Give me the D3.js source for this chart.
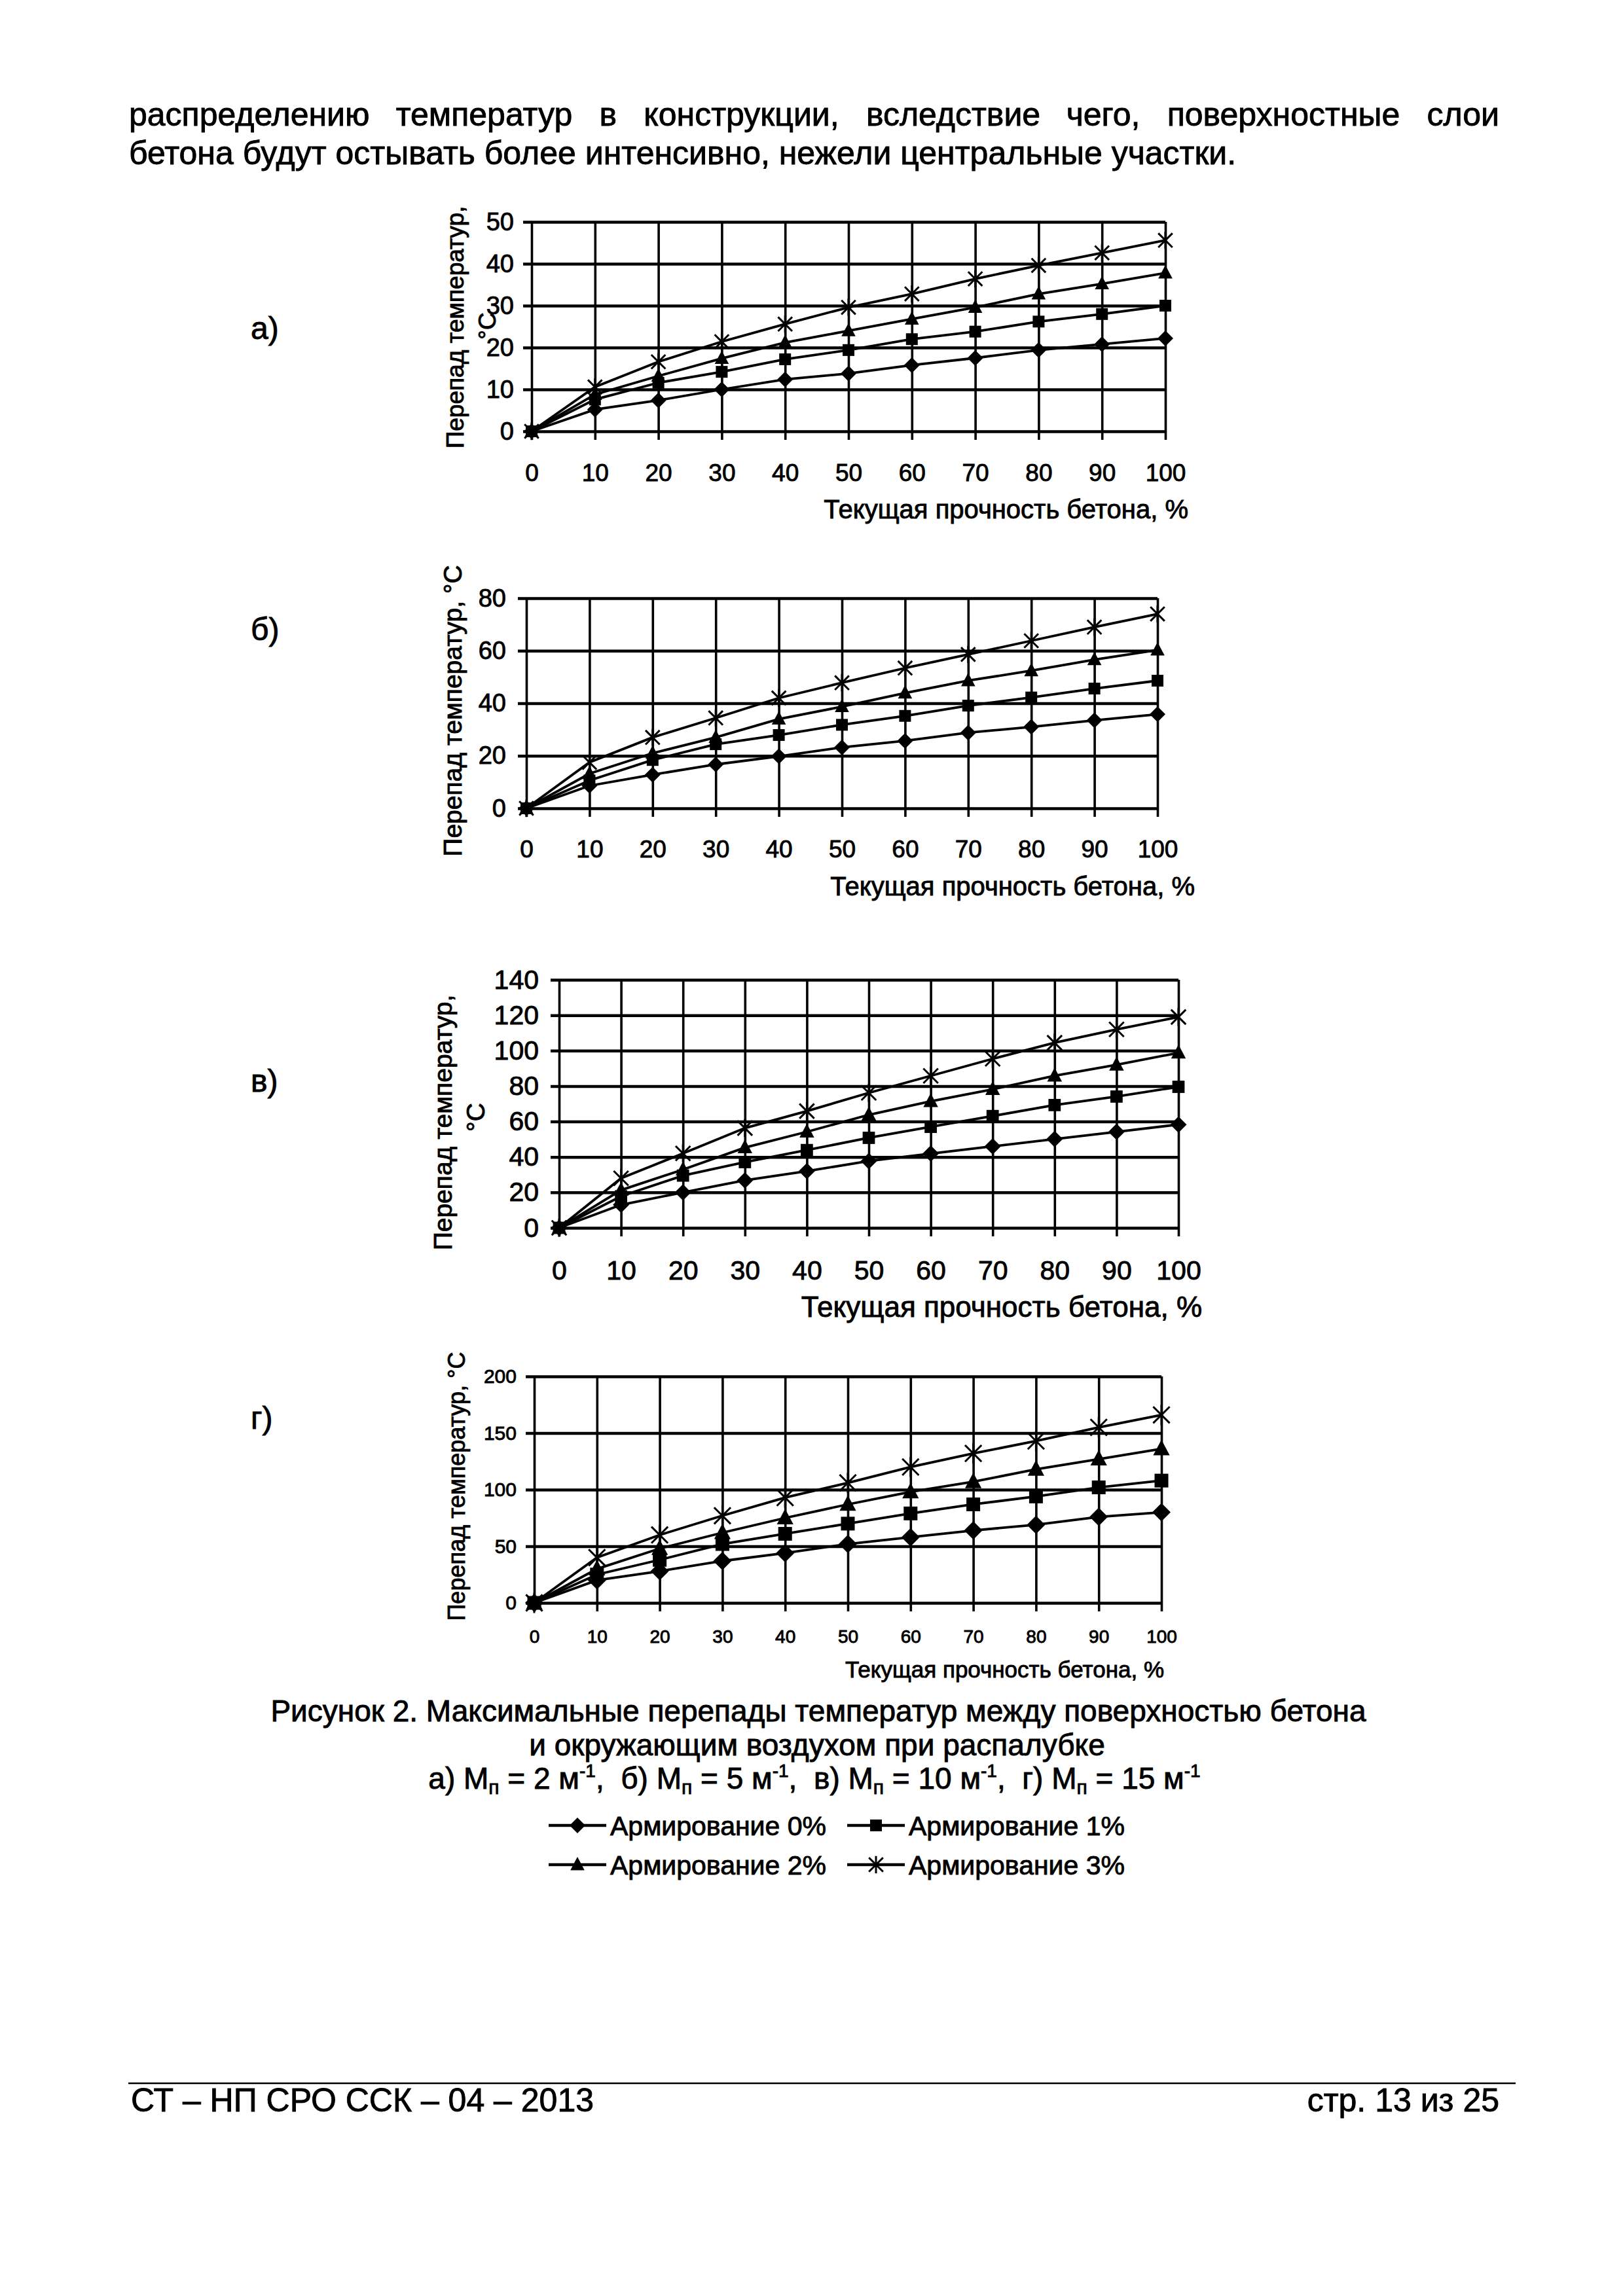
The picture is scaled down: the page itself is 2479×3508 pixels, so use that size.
<!DOCTYPE html>
<html>
<head>
<meta charset="UTF-8">
<title>Рисунок 2</title>
<script src="https://d3js.org/d3.v7.min.js"></script>
<style>
  html, body { margin: 0; padding: 0; background: #fff; }
  svg { display: block; }
  text { font-family: "Liberation Sans", Arial, sans-serif; fill: #000; stroke: #000; stroke-width: 0.9px; }
</style>
</head>
<body>
<script>
// ---- data ----
const strength = [0, 10, 20, 30, 40, 50, 60, 70, 80, 90, 100];
const legendNames = ["Армирование 0%", "Армирование 1%", "Армирование 2%", "Армирование 3%"];

const yTicksA = [0, 10, 20, 30, 40, 50];
const yTicksB = [0, 20, 40, 60, 80];
const yTicksV = [0, 20, 40, 60, 80, 100, 120, 140];
const yTicksG = [0, 50, 100, 150, 200];

// а) Mп = 2 м-1
const a0 = [0, 5.2, 7.4, 10, 12.4, 13.8, 15.8, 17.5, 19.4, 20.8, 22.2];
const a1 = [0, 7.6, 11.6, 14.2, 17.2, 19.4, 22, 23.8, 26.2, 28, 30];
const a2 = [0, 8.8, 13.2, 17.4, 21.2, 24, 26.8, 29.6, 32.8, 35.2, 37.8];
const a3 = [0, 10.6, 16.6, 21.4, 25.6, 29.6, 32.8, 36.4, 39.6, 42.6, 45.6];
// б) Mп = 5 м-1
const b0 = [0, 8.6, 12.8, 16.7, 19.8, 23.2, 25.7, 28.8, 31, 33.5, 35.8];
const b1 = [0, 10.6, 18.4, 24.4, 27.9, 31.8, 35.2, 39.1, 42.2, 45.6, 48.6];
const b2 = [0, 13.2, 21, 27, 34, 38.7, 43.9, 48.6, 52.4, 56.6, 60.3];
const b3 = [0, 17.5, 27, 34.4, 42, 47.8, 53.4, 58.6, 63.8, 69, 74];
// в) Mп = 10 м-1
const v0 = [0, 13, 20, 26.8, 32, 37.7, 41.9, 46, 50.1, 54.2, 58.3];
const v1 = [0, 17.8, 29.5, 37.1, 43.9, 50.8, 57, 63.1, 69.3, 74.1, 79.6];
const v2 = [0, 21.3, 32.9, 45.3, 54.2, 63.8, 71.4, 78.2, 85.8, 92, 98.8];
const v3 = [0, 28, 42, 56.3, 65.9, 76.2, 85.8, 95.4, 104.5, 112, 119];
// г) Mп = 15 м-1
const g0 = [0, 20, 28, 37, 44, 52, 58, 64, 69, 76, 80];
const g1 = [0, 25, 38, 52, 61, 70, 79, 87, 94, 102, 108];
const g2 = [0, 30, 48, 62, 75, 87, 98, 107, 118, 127, 136];
const g3 = [0, 40, 60, 77, 93, 106, 120, 132, 143, 155, 166];

const FONT = '"Liberation Sans", Arial, sans-serif';
const W = 2479, H = 3508;

const svg = d3.select("body").append("svg")
  .attr("width", W).attr("height", H)
  .attr("viewBox", `0 0 ${W} ${H}`);
svg.append("rect").attr("width", W).attr("height", H).attr("fill", "#fff");

// ---- body text (first line justified) ----
function justifiedLine(words, x0, x1, y, fs) {
  const t = svg.append("text").attr("font-size", fs).attr("y", y);
  const spans = words.map(w => t.append("tspan").text(w));
  const widths = spans.map(s => s.node().getComputedTextLength());
  const gap = (x1 - x0 - d3.sum(widths)) / (words.length - 1);
  let x = x0;
  spans.forEach((s, i) => { s.attr("x", x); x += widths[i] + gap; });
}
justifiedLine("распределению температур в конструкции, вследствие чего, поверхностные слои".split(" "),
  197, 2290, 192, 50);
svg.append("text").attr("x", 197).attr("y", 251).attr("font-size", 50)
  .text("бетона будут остывать более интенсивно, нежели центральные участки.");

// ---- markers ----
function marker(sel, type, s) {
  if (type === 0) {
    sel.append("path").attr("d", `M0,${-10*s}L${10*s},0L0,${10*s}L${-10*s},0Z`).attr("fill", "#000");
  } else if (type === 1) {
    sel.append("rect").attr("x", -7.5*s).attr("y", -7.5*s).attr("width", 15*s).attr("height", 15*s).attr("fill", "#000");
  } else if (type === 2) {
    sel.append("path").attr("d", `M0,${-10*s}L${9*s},${7*s}L${-9*s},${7*s}Z`).attr("fill", "#000");
  } else {
    sel.append("path").attr("d", `M${-9*s},${-9*s}L${9*s},${9*s}M${-9*s},${9*s}L${9*s},${-9*s}M0,${-11*s}L0,${11*s}`)
      .attr("stroke", "#000").attr("stroke-width", 3).attr("fill", "none");
  }
}

// ---- charts ----
const charts = [
  { label: "а)", labelY: 518, series: [a0, a1, a2, a3], yTicks: yTicksA,
    left: 812, right: 1780, top: 339, bottom: 659, tickFont: 38, xTickFont: 37, yPad: 14,
    xTickBase: 735, xTitleFont: 40, xTitleBase: 792, xTitleRight: 1815,
    yTitle: ["Перепад температур,", "°C"], yTitleX: [708, 757], yTitleY: [500, 498], yTitleFont: 37, ms: 1.2 },
  { label: "б)", labelY: 978, series: [b0, b1, b2, b3], yTicks: yTicksB,
    left: 804, right: 1768, top: 914, bottom: 1235, tickFont: 38, xTickFont: 37, yPad: 18,
    xTickBase: 1310, xTitleFont: 40, xTitleBase: 1368, xTitleRight: 1825,
    yTitle: ["Перепад температур, °С"], yTitleX: [705], yTitleY: [1086], yTitleFont: 39, ms: 1.2 },
  { label: "в)", labelY: 1668, series: [v0, v1, v2, v3], yTicks: yTicksV,
    left: 854, right: 1800, top: 1497, bottom: 1876, tickFont: 41, xTickFont: 41, yPad: 18,
    xTickBase: 1955, xTitleFont: 44, xTitleBase: 2012, xTitleRight: 1836,
    yTitle: ["Перепад температур,", "°С"], yTitleX: [690, 740], yTitleY: [1715, 1707], yTitleFont: 39, ms: 1.25 },
  { label: "г)", labelY: 2183, series: [g0, g1, g2, g3], yTicks: yTicksG,
    left: 816, right: 1774, top: 2103, bottom: 2449, tickFont: 30, xTickFont: 28, yPad: 14,
    xTickBase: 2510, xTitleFont: 35, xTitleBase: 2563, xTitleRight: 1778,
    yTitle: ["Перепад температур, °С"], yTitleX: [710], yTitleY: [2271], yTitleFont: 36, ms: 1.4 }
];

const TICK = 13;

charts.forEach(c => {
  const x = d3.scaleLinear().domain([0, 100]).range([c.left, c.right]);
  const y = d3.scaleLinear().domain([0, d3.max(c.yTicks)]).range([c.bottom, c.top]);
  const g = svg.append("g");

  g.append("text").attr("x", 383).attr("y", c.labelY).attr("font-size", 48).text(c.label);

  // horizontal grid + y ticks
  g.append("g")
    .attr("transform", `translate(${c.left - TICK},0)`)
    .call(d3.axisLeft(y).tickValues(c.yTicks).tickSize(-(c.right - c.left + TICK)).tickPadding(c.yPad).tickSizeOuter(0))
    .call(a => a.select(".domain").remove())
    .call(a => a.selectAll("line").attr("stroke", "#000").attr("stroke-width", 4.5))
    .call(a => a.selectAll("text").attr("font-size", c.tickFont).attr("font-family", FONT).attr("fill", "#000"));

  // vertical grid + x ticks
  g.append("g")
    .attr("transform", `translate(0,${c.bottom + TICK})`)
    .call(d3.axisBottom(x).tickValues(strength).tickSize(-(c.bottom - c.top + TICK)).tickSizeOuter(0))
    .call(a => a.select(".domain").remove())
    .call(a => a.selectAll("line").attr("stroke", "#000").attr("stroke-width", 3.6))
    .call(a => a.selectAll("text").attr("font-size", c.xTickFont).attr("font-family", FONT).attr("fill", "#000")
      .attr("dy", null).attr("y", c.xTickBase - c.bottom - TICK));

  // axis titles
  g.append("text").attr("x", c.xTitleRight).attr("y", c.xTitleBase).attr("text-anchor", "end")
    .attr("font-size", c.xTitleFont).text("Текущая прочность бетона, %");
  c.yTitle.forEach((t, i) => {
    g.append("text").attr("transform", `translate(${c.yTitleX[i]},${c.yTitleY[i]}) rotate(-90)`)
      .attr("text-anchor", "middle").attr("font-size", c.yTitleFont).text(t);
  });

  // series
  const line = d3.line().x((d, i) => x(strength[i])).y(d => y(d));
  c.series.forEach(vals => {
    g.append("path").datum(vals).attr("d", line)
      .attr("fill", "none").attr("stroke", "#000").attr("stroke-width", 3.8);
  });
  c.series.forEach((vals, si) => {
    vals.forEach((v, i) => {
      const m = g.append("g").attr("transform", `translate(${x(strength[i])},${y(v)})`);
      marker(m, si, c.ms);
    });
  });
});

// ---- caption ----
const cap = svg.append("g").attr("font-size", 46).attr("text-anchor", "middle");
cap.append("text").attr("x", 1250).attr("y", 2630)
  .text("Рисунок 2. Максимальные перепады температур между поверхностью бетона");
cap.append("text").attr("x", 1248).attr("y", 2682)
  .text("и окружающим воздухом при распалубке");

const capParts = [["а) ", "2"], ["б) ", "5"], ["в) ", "10"], ["г) ", "15"]];
const l3 = cap.append("text").attr("x", 1244).attr("y", 2733).attr("xml:space", "preserve");
capParts.forEach((p, i) => {
  l3.append("tspan").text(p[0] + "М");
  l3.append("tspan").attr("font-size", 30).attr("dy", 8).text("п");
  l3.append("tspan").attr("dy", -8).text(" = " + p[1] + " м");
  l3.append("tspan").attr("font-size", 28).attr("dy", -18).text("-1");
  l3.append("tspan").attr("dy", 18).text(i < 3 ? ",  " : "");
});

// ---- legend ----
const legPos = [[838, 2804], [1294, 2804], [838, 2864], [1294, 2864]];
legendNames.forEach((name, i) => {
  const [lx, ly] = legPos[i];
  const my = ly - 15;
  const lg = svg.append("g");
  lg.append("line").attr("x1", lx).attr("x2", lx + 88).attr("y1", my).attr("y2", my)
    .attr("stroke", "#000").attr("stroke-width", 4.5);
  marker(lg.append("g").attr("transform", `translate(${lx + 44},${my})`), i, 1.2);
  lg.append("text").attr("x", lx + 94).attr("y", ly).attr("font-size", 41).text(name);
});

// ---- footer ----
svg.append("line").attr("x1", 196).attr("x2", 2315).attr("y1", 3183).attr("y2", 3183)
  .attr("stroke", "#000").attr("stroke-width", 2.5);
svg.append("text").attr("x", 200).attr("y", 3226).attr("font-size", 50)
  .text("СТ – НП СРО ССК – 04 – 2013");
svg.append("text").attr("x", 2290).attr("y", 3226).attr("font-size", 50).attr("text-anchor", "end")
  .text("стр. 13 из 25");
</script>
</body>
</html>
